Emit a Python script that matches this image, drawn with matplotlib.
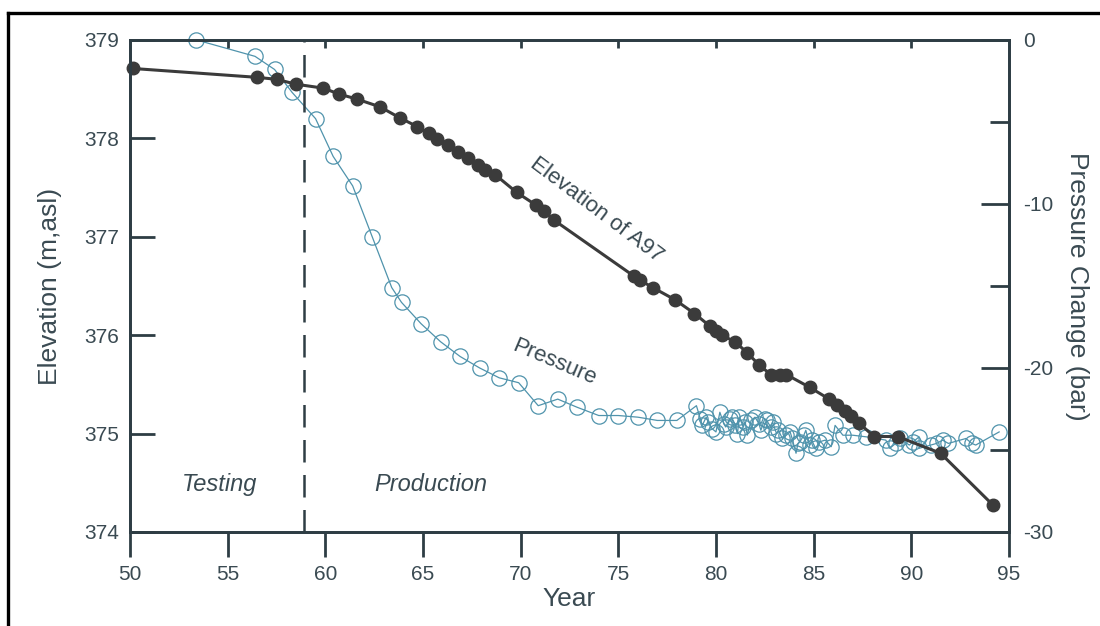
import numpy as np
import matplotlib
matplotlib.use("Agg")
import matplotlib.pyplot as plt
from matplotlib.lines import Line2D
from matplotlib.ticker import MultipleLocator

plt.rcParams['font.family'] = ['Liberation Sans', 'DejaVu Sans']
plt.rcParams['axes.unicode_minus'] = False

# Elevation of A97 (m, asl)
elev_year = [50.15, 56.5, 57.5, 58.5, 59.9, 60.7, 61.6, 62.8, 63.8, 64.7,
             65.3, 65.7, 66.3, 66.8, 67.3, 67.8, 68.2, 68.7, 69.8, 70.8,
             71.2, 71.7, 75.8, 76.1, 76.8, 77.9, 78.9, 79.7, 80.0, 80.3,
             81.0, 81.6, 82.2, 82.8, 83.3, 83.6, 84.8, 85.8, 86.2, 86.6,
             86.9, 87.3, 88.1, 89.3, 91.5, 94.2]
elev = [378.71, 378.62, 378.60, 378.55, 378.51, 378.45, 378.40, 378.32, 378.21, 378.12,
        378.05, 377.99, 377.93, 377.86, 377.80, 377.73, 377.68, 377.63, 377.45, 377.32,
        377.26, 377.17, 376.60, 376.56, 376.48, 376.36, 376.22, 376.09, 376.04, 376.00,
        375.93, 375.82, 375.70, 375.60, 375.60, 375.60, 375.47, 375.35, 375.29, 375.23,
        375.18, 375.11, 374.97, 374.97, 374.80, 374.27]

# Pressure change (bar)
pres_year = [53.4, 56.4, 57.4, 58.3, 59.5, 60.4, 61.4, 62.4, 63.4, 63.9,
             64.9, 65.9, 66.9, 67.9, 68.9, 69.9, 70.9, 71.9, 72.9, 74.0,
             75.0, 76.0, 77.0, 78.0, 79.0, 79.2, 79.3, 79.5, 79.6, 79.8,
             80.0, 80.2, 80.4, 80.5, 80.7, 80.8, 81.0, 81.1, 81.2, 81.4,
             81.5, 81.6, 81.8, 82.0, 82.2, 82.3, 82.5, 82.6, 82.8, 82.9,
             83.1, 83.2, 83.4, 83.6, 83.8, 83.9, 84.1, 84.2, 84.3, 84.5,
             84.6, 84.8, 84.9, 85.1, 85.3, 85.6, 85.9, 86.1, 86.5, 87.0,
             87.7, 88.7, 88.9, 89.2, 89.4, 89.9, 90.1, 90.4, 90.4, 91.0,
             91.3, 91.6, 91.9, 92.8, 93.1, 93.3, 94.5]
pres = [0.0, -1.0, -1.8, -3.2, -4.8, -7.1, -8.9, -12.0, -15.1, -16.0,
        -17.3, -18.4, -19.3, -20.0, -20.6, -20.9, -22.3, -21.9, -22.4, -22.9,
        -22.9, -23.0, -23.2, -23.2, -22.3, -23.1, -23.5, -23.0, -23.3, -23.7,
        -23.9, -22.7, -23.4, -23.6, -23.1, -23.0, -23.5, -24.0, -23.0, -23.6,
        -23.3, -24.1, -23.2, -23.0, -23.4, -23.8, -23.1, -23.2, -23.6, -23.3,
        -24.0, -23.8, -24.3, -24.1, -23.9, -24.3, -25.2, -24.6, -24.5, -24.1,
        -23.8, -24.7, -24.4, -24.9, -24.5, -24.4, -24.8, -23.5, -24.1, -24.1,
        -24.2, -24.4, -24.9, -24.6, -24.3, -24.7, -24.5, -24.2, -24.9, -24.7,
        -24.6, -24.4, -24.6, -24.3, -24.6, -24.7, -23.9]

start_production = 58.9

ink = '#2e3d44'
text_c = '#3a4a52'
teal = '#4f93ac'

fig = plt.figure(figsize=(11, 6.26), dpi=100)
ax = fig.add_axes([0.1182, 0.1502, 0.799, 0.786])
ax2 = ax.twinx()

# pressure (behind)
ax2.plot(pres_year, pres, color=teal, lw=0.9, marker='o', markersize=11,
         markerfacecolor='none', markeredgecolor=teal, markeredgewidth=0.9,
         clip_on=False)
ax2.set_ylim(-30, 0)

# elevation (front)
ax.set_zorder(ax2.get_zorder() + 1)
ax.patch.set_visible(False)
ax.plot(elev_year, elev, color='#3b3b3b', lw=2.2, marker='o', markersize=9,
        markerfacecolor='#3b3b3b', markeredgecolor='#3b3b3b', clip_on=False)
ax.axvline(start_production, color=ink, lw=1.8, dashes=(9, 5))

ax.set_xlim(50, 95)
ax.set_ylim(374, 379)
ax.set_xticks(np.arange(50, 96, 5))
ax.set_yticks(np.arange(374, 380, 1))

for a in (ax, ax2):
    for s in a.spines.values():
        s.set_color(ink)
        s.set_linewidth(2)

ax.tick_params(axis='x', direction='out', length=18, width=2, color=ink,
               labelsize=15, labelcolor=text_c, pad=6)
ax.tick_params(axis='y', direction='in', length=18, width=2, color=ink,
               labelsize=15, labelcolor=text_c, pad=8)
# short inward ticks on the top edge
sec = ax.secondary_xaxis('top')
sec.set_xticks(np.arange(55, 95, 5))
sec.tick_params(direction='in', length=6, width=2, color=ink, labeltop=False)
sec.spines['top'].set_visible(False)

ax2.yaxis.set_major_locator(MultipleLocator(10))
ax2.yaxis.set_minor_locator(MultipleLocator(5))
ax2.tick_params(axis='y', which='major', direction='in', length=20, width=2,
                color=ink, labelsize=15, labelcolor=text_c, pad=10)
ax2.tick_params(axis='y', which='minor', direction='in', length=14, width=2,
                color=ink)

ax.set_xlabel('Year', fontsize=19, color=text_c, labelpad=2)
ax.set_ylabel('Elevation (m,asl)', fontsize=19, color=text_c, labelpad=16)
ax2.set_ylabel('Pressure Change (bar)', fontsize=19, color=text_c,
               rotation=-90, labelpad=26)

ax.text(54.6, 374.48, 'Testing', fontsize=17, style='italic', color=text_c,
        ha='center', va='center')
ax.text(65.4, 374.48, 'Production', fontsize=17, style='italic', color=text_c,
        ha='center', va='center')
ax.text(73.9, 377.27, 'Elevation of A97', fontsize=16, color=text_c,
        rotation=-37, ha='center', va='center', rotation_mode='anchor')
ax.text(71.7, 375.72, 'Pressure', fontsize=16, color=text_c,
        rotation=-23, ha='center', va='center', rotation_mode='anchor')

# scanned page frame
fig.add_artist(Line2D([8 / 1100, 8 / 1100], [0, 1 - 13 / 626], color='black',
                      lw=2.4, transform=fig.transFigure))
fig.add_artist(Line2D([8 / 1100, 1], [1 - 13 / 626, 1 - 13 / 626], color='black',
                      lw=2.4, transform=fig.transFigure))

fig.savefig('out.png', dpi=100)
